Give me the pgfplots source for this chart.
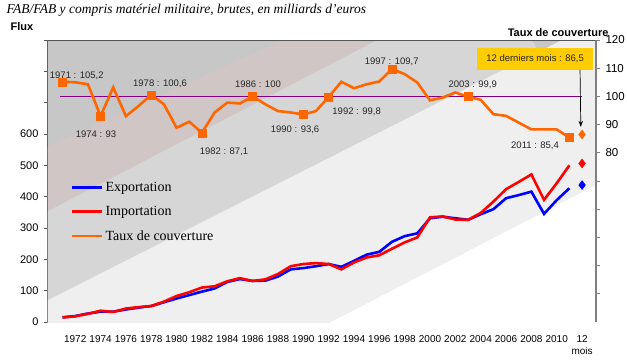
\documentclass[border=0pt]{standalone}
\usepackage{fontspec}
\setmainfont{Liberation Serif}
\setsansfont{Liberation Sans}
\usepackage{pgfplots}
\usepackage{pgfplotstable}
\pgfplotsset{compat=1.18}
\usetikzlibrary{arrows.meta}
\definecolor{bgA}{HTML}{C7C7C7}
\definecolor{bgB}{HTML}{D0C6C6}
\definecolor{bgC}{HTML}{D6D6D6}
\definecolor{bgD}{HTML}{EFEFEF}
\definecolor{tauxc}{HTML}{FF6600}
\definecolor{expc}{HTML}{0000FF}
\definecolor{impc}{HTML}{FF0000}
\definecolor{purp}{HTML}{800080}
\definecolor{boxy}{HTML}{FFCC00}
\definecolor{axd}{HTML}{555555}
\definecolor{axr}{HTML}{808080}

\pgfplotstableread{
year exp imp taux
1971 15 14.5 105.2
1972 19 18 105.0
1973 27 26 104.3
1974 33 36 93.0
1975 33 32 103.2
1976 40 43 93.0
1977 46 47.5 96.6
1978 51 51 100.6
1979 63 65 97.2
1980 75 83 88.9
1981 86 95 91.0
1982 97 110 87.1
1983 107 114 94.3
1984 128 130 97.8
1985 137 140 97.5
1986 131 131 100.0
1987 132 136 97.2
1988 145 153 94.8
1989 168 178 94.3
1990 172 185 93.6
1991 178 188 94.8
1992 185 185 99.8
1993 176 168 105.2
1994 195 190 102.9
1995 215 206 104.3
1996 224 213 105.3
1997 256 234 109.7
1998 274 254 107.9
1999 283 270 104.9
2000 331 334 98.6
2001 336 337 99.6
2002 331 327 101.4
2003 326 326 99.9
2004 344 348 98.8
2005 360 384 93.7
2006 395 424 93.1
2007 405 447 90.7
2008 416 471 88.3
2009 345 390 88.3
2010 389 443 88.3
2011 427 500 85.4
}\flux

\begin{document}
\begin{tikzpicture}
\useasboundingbox (-48pt,-38pt) rectangle (579pt,322pt);
\begin{axis}[
  scale only axis, width=548pt, height=282pt,
  xmin=1969.85, xmax=2013.1, ymin=0, ymax=900,
  axis x line*=bottom, axis y line*=left,
  axis line style={draw=axd, line width=1.2pt},
  xtick={1972,1974,...,2010,2012},
  xticklabels={1972,1974,1976,1978,1980,1982,1984,1986,1988,1990,1992,1994,1996,1998,2000,2002,2004,2006,2008,2010,{12\\mois}},
  xtick style={draw=none},
  xticklabel style={align=center, font=\sffamily\fontsize{10}{12}\selectfont, yshift=-6pt},
  ytick={0,100,...,900},
  yticklabels={0,100,200,300,400,500,600,,,},
  tick align=outside, major tick length=4pt,
  ytick style={draw=axd, line width=0.8pt},
  yticklabel style={font=\sffamily\fontsize{11}{13}\selectfont, xshift=-2pt},
  /pgf/number format/assume math mode=true,
]
\fill[bgA] (axis cs:1960,-500) rectangle (axis cs:2030,1200);
\fill[bgB] (axis cs:1965,470.6) -- (axis cs:1995,1022.6) -- (axis cs:2030,-500) -- (axis cs:1960,-500) -- cycle;
\fill[bgC] (axis cs:1965,252) -- (axis cs:2005,1092) -- (axis cs:2030,-500) -- (axis cs:1960,-500) -- cycle;
\fill[bgD] (axis cs:1965,-29.5) -- (axis cs:2020,1096) -- (axis cs:2030,-500) -- (axis cs:1960,-500) -- cycle;
\fill[white] (axis cs:1985,-150.5) -- (axis cs:2020,581) -- (axis cs:2030,-500) -- (axis cs:1960,-500) -- cycle;
\draw[axd, line width=0.8pt] (rel axis cs:0,1) -- (rel axis cs:1,1);
\addplot[expc, line width=2.6pt] table[x=year, y=exp] {\flux};
\addplot[impc, line width=2.6pt] table[x=year, y=imp] {\flux};
\addplot[only marks, mark=diamond*, mark size=4.5pt, expc] coordinates {(2012,437)};
\addplot[only marks, mark=diamond*, mark size=4.5pt, impc] coordinates {(2012,506)};
\end{axis}

\begin{axis}[
  scale only axis, width=548pt, height=282pt,
  xmin=1969.85, xmax=2013.1, ymin=20, ymax=120,
  axis x line=none, axis y line*=right,
  axis line style={draw=axr, line width=2pt},
  xtick=\empty,
  ytick={30,40,...,120},
  yticklabels={,,,,,80,90,100,110,120},
  tick align=outside, major tick length=4pt,
  ytick style={draw=axr, line width=0.8pt},
  yticklabel style={font=\sffamily\fontsize{11.5}{13}\selectfont, xshift=2pt},
  /pgf/number format/assume math mode=true,
  legend style={at={(rel axis cs:0.036,0.512)}, anchor=north west, draw=none, fill=none,
    font=\fontsize{14}{15}\selectfont, row sep=9.5pt, cells={anchor=west}},
  legend image code/.code={\draw[#1, line width=2.6pt] (0pt,0pt) -- (30pt,0pt);},
]
\addlegendimage{expc}\addlegendentry{Exportation}
\addlegendimage{impc}\addlegendentry{Importation}
\addlegendimage{tauxc}\addlegendentry{Taux de couverture}
\addplot[purp, line width=1.2pt, forget plot] coordinates {(1970.8,100) (2012,100)};
\addplot[tauxc, line width=2.6pt, forget plot] table[x=year, y=taux] {\flux};
\addplot[only marks, mark=square*, mark size=4pt, tauxc, forget plot] coordinates {
(1971,105.2) (1974,93) (1978,100.6) (1982,87.1) (1986,100) (1990,93.6) (1992,99.8) (1997,109.7) (2003,99.9) (2011,85.4)};
\addplot[only marks, mark=diamond*, mark size=4.5pt, tauxc, forget plot] coordinates {(2012,86.5)};
\begin{scope}[every node/.style={font=\sffamily\fontsize{9.5}{11}\selectfont, text=black!85}]
\node at (axis cs:1972.12,107.2) {1971 : 105,2};
\node at (axis cs:1973.64,86.7) {1974 : 93};
\node at (axis cs:1978.69,104.4) {1978 : 100,6};
\node at (axis cs:1983.74,80.4) {1982 : 87,1};
\node at (axis cs:1986.42,104.4) {1986 : 100};
\node at (axis cs:1989.35,88.1) {1990 : 93,6};
\node at (axis cs:1994.21,94.6) {1992 : 99,8};
\node at (axis cs:1996.98,112.1) {1997 : 109,7};
\node at (axis cs:2003.37,104.0) {2003 : 99,9};
\node at (axis cs:2008.29,82.4) {2011 : 85,4};
\node[fill=boxy, minimum width=116pt, minimum height=22pt, inner sep=0pt] at (axis cs:2008.29,113.3) {12 derniers mois : 86,5};
\end{scope}
\draw[-{Stealth[length=6pt,width=4.5pt]}, line width=0.7pt] (axis cs:2011.84,109.4) -- (axis cs:2011.9,89.2);
\end{axis}

\node[anchor=west, font=\itshape\fontsize{13.5}{15}\selectfont] at (-45pt,312pt) {FAB/FAB y compris matériel militaire, brutes, en milliards d'euros};
\node[font=\sffamily\bfseries\fontsize{11}{13}\selectfont] at (-26pt,295pt) {Flux};
\node[anchor=east, font=\sffamily\bfseries\fontsize{11}{13}\selectfont] at (564pt,289pt) {Taux de couverture};
\end{tikzpicture}
\end{document}
